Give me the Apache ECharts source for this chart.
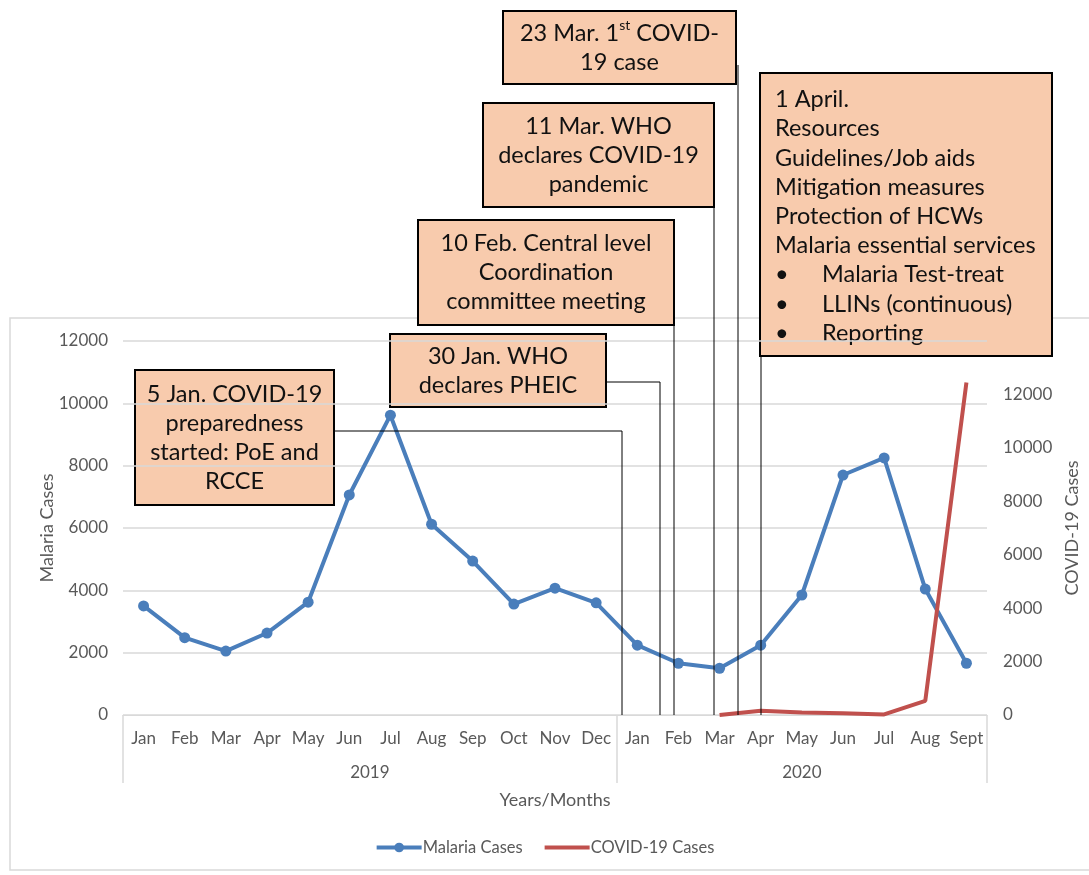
<!DOCTYPE html>
<html>
<head>
<meta charset="utf-8">
<title>Malaria and COVID-19 cases</title>
<script src="https://cdn.jsdelivr.net/npm/echarts@6/dist/echarts.min.js"></script>
<style>
    html, body { margin: 0; padding: 0; background: #fff; }
    #main { width: 1089px; height: 875px; }
</style>
</head>
<body>
<div id="main"></div>
<script>
'use strict';

// 月份（2019年1月 - 2020年9月）
var months = ['Jan', 'Feb', 'Mar', 'Apr', 'May', 'Jun', 'Jul', 'Aug', 'Sep', 'Oct', 'Nov', 'Dec',
    'Jan', 'Feb', 'Mar', 'Apr', 'May', 'Jun', 'Jul', 'Aug', 'Sept'];
var years = ['2019', '2020'];
var monthsPerYear = [12, 9];

var malariaCases = [3500, 2480, 2050, 2630, 3620, 7060, 9620, 6120, 4940, 3560, 4070, 3600,
    2240, 1660, 1500, 2240, 3850, 7700, 8250, 4040, 1660];
var covidCases = [null, null, null, null, null, null, null, null, null, null, null, null,
    null, null, 0, 160, 90, 70, 20, 530, 12450];

var leftTicks = { min: 0, max: 12000, interval: 2000 };
var rightTicks = { min: 0, max: 14000, interval: 2000 };

var FONT = 'Lato, "Open Sans", sans-serif';
var GREY = '#595959';
var LIGHT = '#d9d9d9';
var BOX_FONT = 23.5;

$ready(function() {
    setChart();
});

function $ready(fn) {
    if (document.readyState !== 'loading') fn();
    else document.addEventListener('DOMContentLoaded', fn);
}

// 年份分隔线 / 年份标签位置
function yearMarks() {
    var bounds = [0], centers = [], acc = 0;
    for (var i = 0; i < monthsPerYear.length; i++) {
        centers.push(acc + monthsPerYear[i] / 2);
        acc += monthsPerYear[i];
        bounds.push(acc);
    }
    return { bounds: bounds, centers: centers };
}

// 注释框
function box(x, y, w, h, text, align, rich) {
    var tx = align === 'left' ? x + 15 : x + w / 2;
    return {
        type: 'group',
        z: 100,
        children: [{
            type: 'rect',
            shape: { x: x, y: y, width: w, height: h },
            style: { fill: '#f8cbad', stroke: '#000', lineWidth: 2 }
        }, {
            type: 'text',
            style: {
                x: tx,
                y: align === 'left' ? y + 12 : y + h / 2,
                text: text,
                rich: rich || {},
                align: align || 'center',
                verticalAlign: align === 'left' ? 'top' : 'middle',
                fontFamily: FONT,
                fontSize: BOX_FONT,
                lineHeight: 29,
                fill: '#111'
            }
        }]
    };
}

function connector(points) {
    return {
        type: 'polyline',
        z: 90,
        shape: { points: points },
        style: { stroke: '#000', lineWidth: 1, fill: null }
    };
}

function plain(v) {
    return String(v);
}

function setChart() {
    var marks = yearMarks();
    var baseRich = {
        n: { fontFamily: FONT, fontSize: BOX_FONT, lineHeight: 29, fill: '#111' },
        s: { fontFamily: FONT, fontSize: 14, lineHeight: 29, verticalAlign: 'top', padding: [0, 0, 10, 0], fill: '#111' }
    };
    var listRich = {
        b: { fontFamily: FONT, fontSize: BOX_FONT, lineHeight: 29.2, width: 47, fill: '#111' },
        t: { fontFamily: FONT, fontSize: BOX_FONT, lineHeight: 29.2, fill: '#111' },
        l: { fontFamily: FONT, fontSize: BOX_FONT, lineHeight: 29.2, fill: '#111' }
    };
    var aprilText = [
        '{l|1 April.}',
        '{l|Resources}',
        '{l|Guidelines/Job aids}',
        '{l|Mitigation measures}',
        '{l|Protection of HCWs}',
        '{l|Malaria essential services}',
        '{b|•}{t|Malaria Test-treat}',
        '{b|•}{t|LLINs (continuous)}',
        '{b|•}{t|Reporting}'
    ].join('\n');

    var option = {
        backgroundColor: '#fff',
        textStyle: { fontFamily: FONT },
        grid: {
            left: 123,
            right: 102,
            top: 341,
            bottom: 160,
            containLabel: false,
            outerBoundsMode: 'none'
        },
        legend: {
            bottom: 14,
            left: 'center',
            itemWidth: 45,
            itemHeight: 12,
            itemGap: 20,
            textStyle: { color: GREY, fontSize: 16.5, fontFamily: FONT, padding: [0, 0, 0, -4] },
            lineStyle: { width: 4 },
            data: [
                { name: 'Malaria Cases' },
                { name: 'COVID-19 Cases', itemStyle: { opacity: 0 } }
            ]
        },
        xAxis: [{
            type: 'category',
            data: months,
            boundaryGap: true,
            name: 'Years/Months',
            nameLocation: 'middle',
            nameGap: 76,
            nameTextStyle: { color: GREY, fontSize: 18, fontFamily: FONT },
            axisLine: { lineStyle: { color: LIGHT, width: 1 } },
            axisTick: { show: false },
            axisLabel: { color: GREY, fontSize: 17, margin: 15, interval: 0, fontFamily: FONT }
        }, {
            // 第二层：年份
            type: 'value',
            position: 'bottom',
            min: 0,
            max: months.length,
            axisLine: { show: false },
            splitLine: { show: false },
            axisTick: {
                show: true,
                length: 68,
                customValues: marks.bounds,
                lineStyle: { color: LIGHT, width: 1.5 }
            },
            axisLabel: {
                color: GREY,
                fontSize: 17,
                margin: 49,
                fontFamily: FONT,
                customValues: marks.centers,
                formatter: function(v) {
                    return years[marks.centers.indexOf(v)];
                }
            }
        }],
        yAxis: [{
            type: 'value',
            min: leftTicks.min,
            max: leftTicks.max,
            interval: leftTicks.interval,
            name: 'Malaria Cases',
            nameLocation: 'middle',
            nameGap: 67,
            nameMoveOverlap: false,
            nameTextStyle: { color: GREY, fontSize: 18, fontFamily: FONT },
            axisLine: { show: false },
            axisTick: { show: false },
            axisLabel: { color: GREY, fontSize: 17, margin: 15, fontFamily: FONT, formatter: plain },
            splitLine: { lineStyle: { color: LIGHT, width: 1.5 } }
        }, {
            type: 'value',
            position: 'right',
            min: rightTicks.min,
            max: rightTicks.max,
            interval: rightTicks.interval,
            name: 'COVID-19 Cases',
            nameLocation: 'middle',
            nameGap: 76,
            nameTextStyle: { color: GREY, fontSize: 18, fontFamily: FONT },
            axisLine: { show: false },
            axisTick: { show: false },
            axisLabel: { color: GREY, fontSize: 17, margin: 16, showMaxLabel: false, fontFamily: FONT, formatter: plain },
            splitLine: { show: false }
        }],
        series: [{
            name: 'Malaria Cases',
            type: 'line',
            xAxisIndex: 0,
            yAxisIndex: 0,
            data: malariaCases,
            symbol: 'circle',
            symbolSize: 11,
            itemStyle: { color: '#4a7ebb' },
            lineStyle: { color: '#4a7ebb', width: 4 },
            z: 3
        }, {
            name: 'COVID-19 Cases',
            type: 'line',
            xAxisIndex: 0,
            yAxisIndex: 1,
            data: covidCases,
            symbol: 'none',
            connectNulls: false,
            itemStyle: { color: '#c0504d' },
            lineStyle: { color: '#c0504d', width: 4 },
            z: 4
        }],
        graphic: [
            // 图表外框
            {
                type: 'rect',
                z: -10,
                shape: { x: 10, y: 318, width: 1100, height: 552 },
                style: { fill: null, stroke: LIGHT, lineWidth: 1.5 }
            },
            // 连接线
            connector([[334, 431], [622, 431], [622, 715]]),
            connector([[606, 382], [660, 382], [660, 715]]),
            connector([[674, 325], [674, 715]]),
            connector([[714, 207], [714, 715]]),
            connector([[738, 65], [738, 715]]),
            connector([[761, 356], [761, 715]]),
            // 注释框
            box(503, 11, 233, 73, '{n|23 Mar. 1}{s|st}{n| COVID-}\n{n|19 case}', 'center', baseRich),
            box(483, 103, 231, 104, '11 Mar. WHO\ndeclares COVID-19\npandemic'),
            box(760, 73, 292, 283, aprilText, 'left', listRich),
            box(418, 220, 256, 105, '10 Feb. Central level\nCoordination\ncommittee meeting'),
            box(390, 334, 216, 73, '30 Jan. WHO\ndeclares PHEIC'),
            box(135, 370, 199, 135, '5 Jan. COVID-19\npreparedness\nstarted: PoE and\nRCCE')
        ]
    };

    var myChart = echarts.init(document.getElementById('main'), null, { renderer: 'canvas' });
    myChart.setOption(option);
}
</script>
</body>
</html>
